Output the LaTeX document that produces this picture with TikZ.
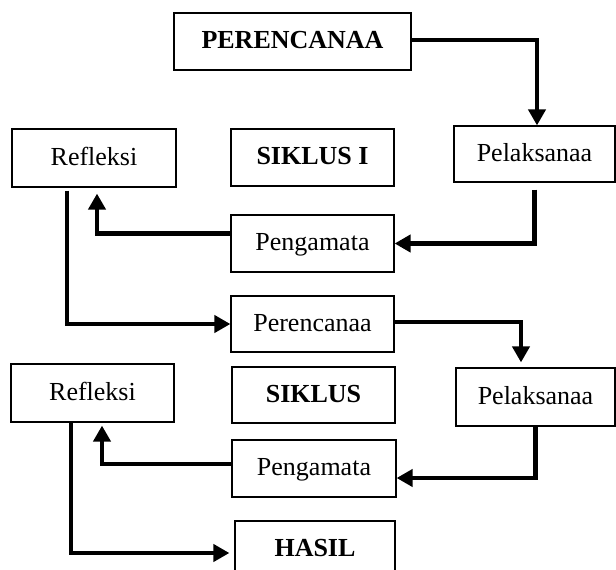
\documentclass[tikz,border=0pt]{standalone}
\usepackage{fontspec}
\setmainfont{Liberation Serif}
\usetikzlibrary{arrows.meta}
\begin{document}
\begin{tikzpicture}[x=1pt,y=-1pt,
  box/.style={draw, line width=1.2pt, inner sep=0pt, text height=19pt, text depth=5pt,
    font=\fontsize{26}{30}\selectfont},
  bbox/.style={box, font=\fontsize{26}{30}\selectfont\bfseries},
  conn/.style={line width=4.5pt, -{Triangle[length=16pt,width=17pt]}}]
\useasboundingbox (0,0) rectangle (616,570);
\clip (0,0) rectangle (616,570);
\node[bbox, minimum width=237pt, minimum height=57pt] (p1) at (292.5,41.5) {PERENCANAA};
\node[box, minimum width=161pt, minimum height=56pt] (pl1) at (534.5,154) {Pelaksanaa};
\node[bbox, minimum width=163pt, minimum height=57pt] (s1) at (312.5,157.5) {SIKLUS I};
\node[box, minimum width=164pt, minimum height=58pt] (r1) at (94,158) {Refleksi};
\node[box, minimum width=163pt, minimum height=57pt] (pg1) at (312.5,243.5) {Pengamata};
\node[box, minimum width=163pt, minimum height=56pt] (pr2) at (312.5,324) {Perencanaa};
\node[box, minimum width=159pt, minimum height=58pt] (pl2) at (535.5,397) {Pelaksanaa};
\node[bbox, minimum width=163pt, minimum height=56pt] (s2) at (313.5,395) {SIKLUS};
\node[box, minimum width=163pt, minimum height=58pt] (r2) at (92.5,393) {Refleksi};
\node[box, minimum width=164pt, minimum height=57pt] (pg2) at (314,468.5) {Pengamata};
\node[bbox, minimum width=160pt, minimum height=57pt] (h) at (315,549.5) {HASIL};
% connectors
\draw[conn] ([yshift=1.5pt]p1.east) -| ([xshift=2.5pt]pl1.north);
\draw[conn, shorten <=7pt] (pl1.south) |- (pg1.east);
\draw[conn, shorten >=6pt] ([yshift=10pt]pg1.west) -| ([xshift=3pt]r1.south);
\draw[conn, shorten <=3pt] ([xshift=-27pt]r1.south) |- (pr2.west);
\draw[conn, shorten >=5pt] ([yshift=2pt]pr2.east) -| ([xshift=-14.5pt]pl2.north);
\draw[conn] (pl2.south) |- ([yshift=-9.5pt]pg2.east);
\draw[conn, shorten >=3pt] ([yshift=4.5pt]pg2.west) -| ([xshift=9.5pt]r2.south);
\draw[conn, shorten >=5pt] ([xshift=-21.5pt]r2.south) |- ([yshift=-3.5pt]h.west);
\end{tikzpicture}
\end{document}
